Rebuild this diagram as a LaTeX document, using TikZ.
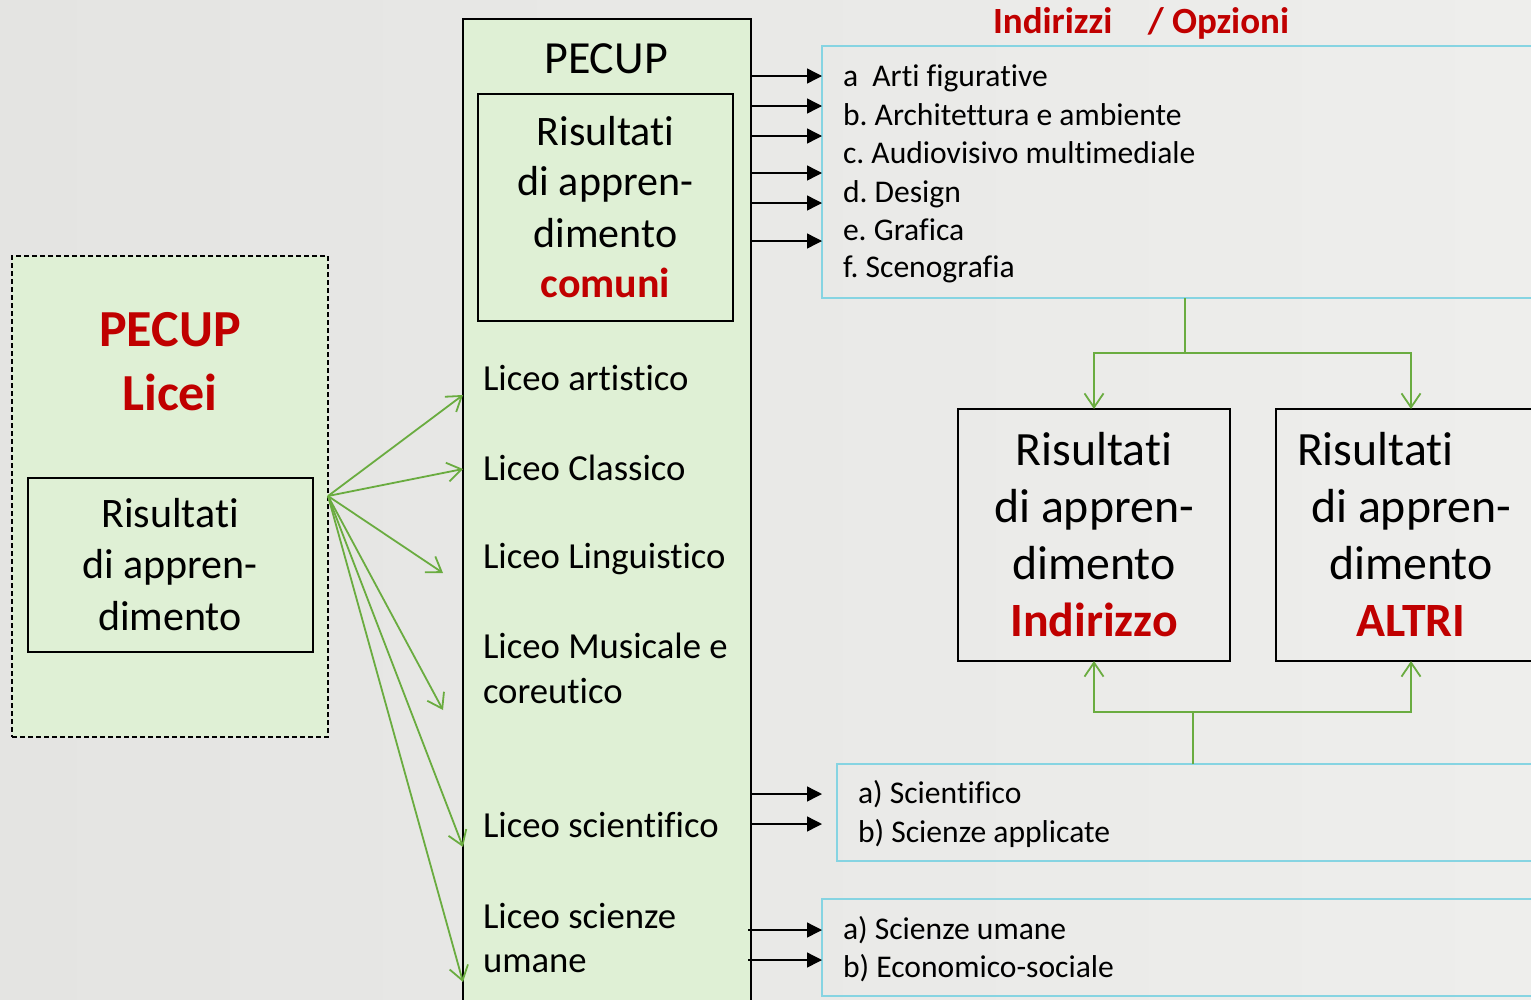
\documentclass[tikz,border=0pt]{standalone}
\usepackage{fontspec}
\setmainfont{Carlito}[Ligatures={NoCommon,NoContextual}, RawFeature={-liga;-clig;-calt;-dlig}]
\usetikzlibrary{arrows.meta}
\definecolor{lgreen}{RGB}{223,240,213}
\definecolor{ggreen}{RGB}{106,172,64}
\definecolor{dred}{RGB}{192,0,0}
\definecolor{cyanb}{RGB}{134,212,226}
\definecolor{bgL}{RGB}{228,228,226}
\definecolor{bgM}{RGB}{245,245,244}
\definecolor{bgR}{RGB}{238,238,236}
\frenchspacing
\begin{document}
\begin{tikzpicture}[x=1pt,y=-1pt,
  tw/.style={inner sep=0pt, outer sep=0pt, anchor=base west},
  tc/.style={inner sep=0pt, outer sep=0pt, anchor=base},
  gbox/.style={draw=black, line width=1.6pt, fill=lgreen, inner sep=0pt, outer sep=0pt, anchor=north west},
  wbox/.style={draw=black, line width=1.6pt, inner sep=0pt, outer sep=0pt, anchor=north west},
  cbox/.style={draw=cyanb, line width=1.6pt, inner sep=0pt, outer sep=0pt, anchor=north west},
  barr/.style={draw=black, line width=1.4pt, -{Triangle[length=15pt,width=15pt]}},
  garr/.style={draw=ggreen, line width=1.8pt, -{Straight Barb[length=14pt,width=19pt]}},
  gline/.style={draw=ggreen, line width=1.8pt},
  fbig/.style={font=\fontsize{42}{50}\selectfont},
  fhuge/.style={font=\fontsize{47.8}{58}\selectfont},
  fli/.style={font=\fontsize{36.7}{44}\selectfont},
  fls/.style={font=\fontsize{31.6}{38}\selectfont}]

\useasboundingbox (0,0) rectangle (1531,999);
\shade[left color=bgL, middle color=bgM, right color=bgR] (0,0) rectangle (1531,999);

% left dashed box
\node[gbox, line width=2.2pt, dash pattern=on 5pt off 3pt, minimum width=316pt, minimum height=481pt] (lbox) at (12,256) {};
\node[wbox, minimum width=285pt, minimum height=174pt] (linner) at (28,478) {};
\node[tc, text=dred, font=\bfseries\fontsize{52}{62}\selectfont] (pl1) at (170,346) {PECUP};
\node[tc, text=dred, font=\bfseries\fontsize{52}{62}\selectfont] (pl2) at (170,410) {Licei};
\node[tc, fbig] (lr1) at (170,527) {Risultati};
\node[tc, fbig] (lr2) at (170,578) {di appren-};
\node[tc, fbig] (lr3) at (170,630) {dimento};

% centre box
\node[gbox, minimum width=288pt, minimum height=1000pt] (cbx) at (463,19) {};
\node[tc, font=\fontsize{46}{54}\selectfont] (cp) at (606,73) {PECUP};
\node[wbox, minimum width=255pt, minimum height=227pt] (cinner) at (478,94) {};
\node[tc, fbig] (cr1) at (605.5,145) {Risultati};
\node[tc, fbig] (cr2) at (605.5,195) {di appren-};
\node[tc, fbig] (cr3) at (605.5,247) {dimento};
\node[tc, text=dred, font=\bfseries\fontsize{42}{50}\selectfont] (cr4) at (605.5,297) {comuni};

\node[tw, fli] (l1) at (483,390) {Liceo artistico};
\node[tw, fli] (l2) at (483,480) {Liceo Classico};
\node[tw, fli] (l3) at (483,568) {Liceo Linguistico};
\node[tw, fli] (l4a) at (483,658) {Liceo Musicale e};
\node[tw, fli] (l4b) at (483,703) {coreutico};
\node[tw, fli] (l5) at (483,837) {Liceo scientifico};
\node[tw, fli] (l6a) at (483,928) {Liceo scienze};
\node[tw, fli] (l6b) at (483,972) {umane};

% header
\node[tw, text=dred, font=\bfseries\fontsize{37}{44}\selectfont] (hdr) at (993,33) {Indirizzi\hspace{27pt} / Opzioni};

% options box
\node[cbox, minimum width=723pt, minimum height=252pt] (optbox) at (822,46) {};
\node[tw, fls] (o1) at (843,86) {a\ \ Arti figurative};
\node[tw, fls] (o2) at (843,125) {b. Architettura e ambiente};
\node[tw, fls] (o3) at (843,163) {c. Audiovisivo multimediale};
\node[tw, fls] (o4) at (843,202) {d. Design};
\node[tw, fls] (o5) at (843,240) {e. Grafica};
\node[tw, fls] (o6) at (843,277) {f. Scenografia};

% result boxes
\node[wbox, minimum width=272pt, minimum height=252pt] (indbox) at (958,409) {};
\node[wbox, minimum width=270pt, minimum height=252pt] (altbox) at (1276,409) {};
\node[tc, fhuge] (ir1) at (1094,465) {Risultati};
\node[tc, fhuge] (ir2) at (1094,522) {di appren-};
\node[tc, fhuge] (ir3) at (1094,579) {dimento};
\node[tc, text=dred, font=\bfseries\fontsize{47.8}{58}\selectfont] (ir4) at (1094,636) {Indirizzo};
\node[tw, fhuge] (ar1) at (1297,465) {Risultati};
\node[tc, fhuge] (ar2) at (1411,522) {di appren-};
\node[tc, fhuge] (ar3) at (1411,579) {dimento};
\node[tc, text=dred, font=\bfseries\fontsize{47.8}{58}\selectfont] (ar4) at (1411,636) {ALTRI};

% scientifico / umane boxes
\node[cbox, minimum width=708pt, minimum height=97pt] (scibox) at (837,764) {};
\node[tw, fls] (s1) at (858,803) {a) Scientifico};
\node[tw, fls] (s2) at (858,842) {b) Scienze applicate};
\node[cbox, minimum width=723pt, minimum height=97pt] (umbox) at (822,899) {};
\node[tw, fls] (u1) at (843,939) {a) Scienze umane};
\node[tw, fls] (u2) at (843,977) {b) Economico-sociale};

% black arrows
\foreach \yy in {76,106,136,173,203,241}
  \draw[barr] (cbx.east |- 0,\yy) -- (optbox.west |- 0,\yy);
\foreach \yy in {794,824}
  \draw[barr] (cbx.east |- 0,\yy) -- (optbox.west |- 0,\yy);
\foreach \yy in {930,960}
  \draw[barr] ([xshift=-3pt]cbx.east |- 0,\yy) -- (umbox.west |- 0,\yy);

% green fan
\coordinate (fan) at (328,496);
\coordinate (e3) at (443,573);
\coordinate (e4) at (443,710);
\draw[garr] (fan) -- (cbx.west |- 0,395);
\draw[garr] (fan) -- (cbx.west |- 0,469);
\draw[garr] (fan) -- (e3);
\draw[garr] (fan) -- (e4);
\draw[garr] (fan) -- (cbx.west |- 0,847);
\draw[garr] (fan) -- (cbx.west |- 0,982);

% green forks
\coordinate (tfork) at (1185,353);
\draw[gline] (tfork |- optbox.south) -- (tfork);
\draw[garr] (tfork) -| (indbox.north);
\draw[garr] (tfork) -| (altbox.north);
\coordinate (bfork) at (1193,712);
\draw[gline] (bfork |- scibox.north) -- (bfork);
\draw[garr] (bfork) -| (indbox.south);
\draw[garr] (bfork) -| (altbox.south);
\end{tikzpicture}
\end{document}
